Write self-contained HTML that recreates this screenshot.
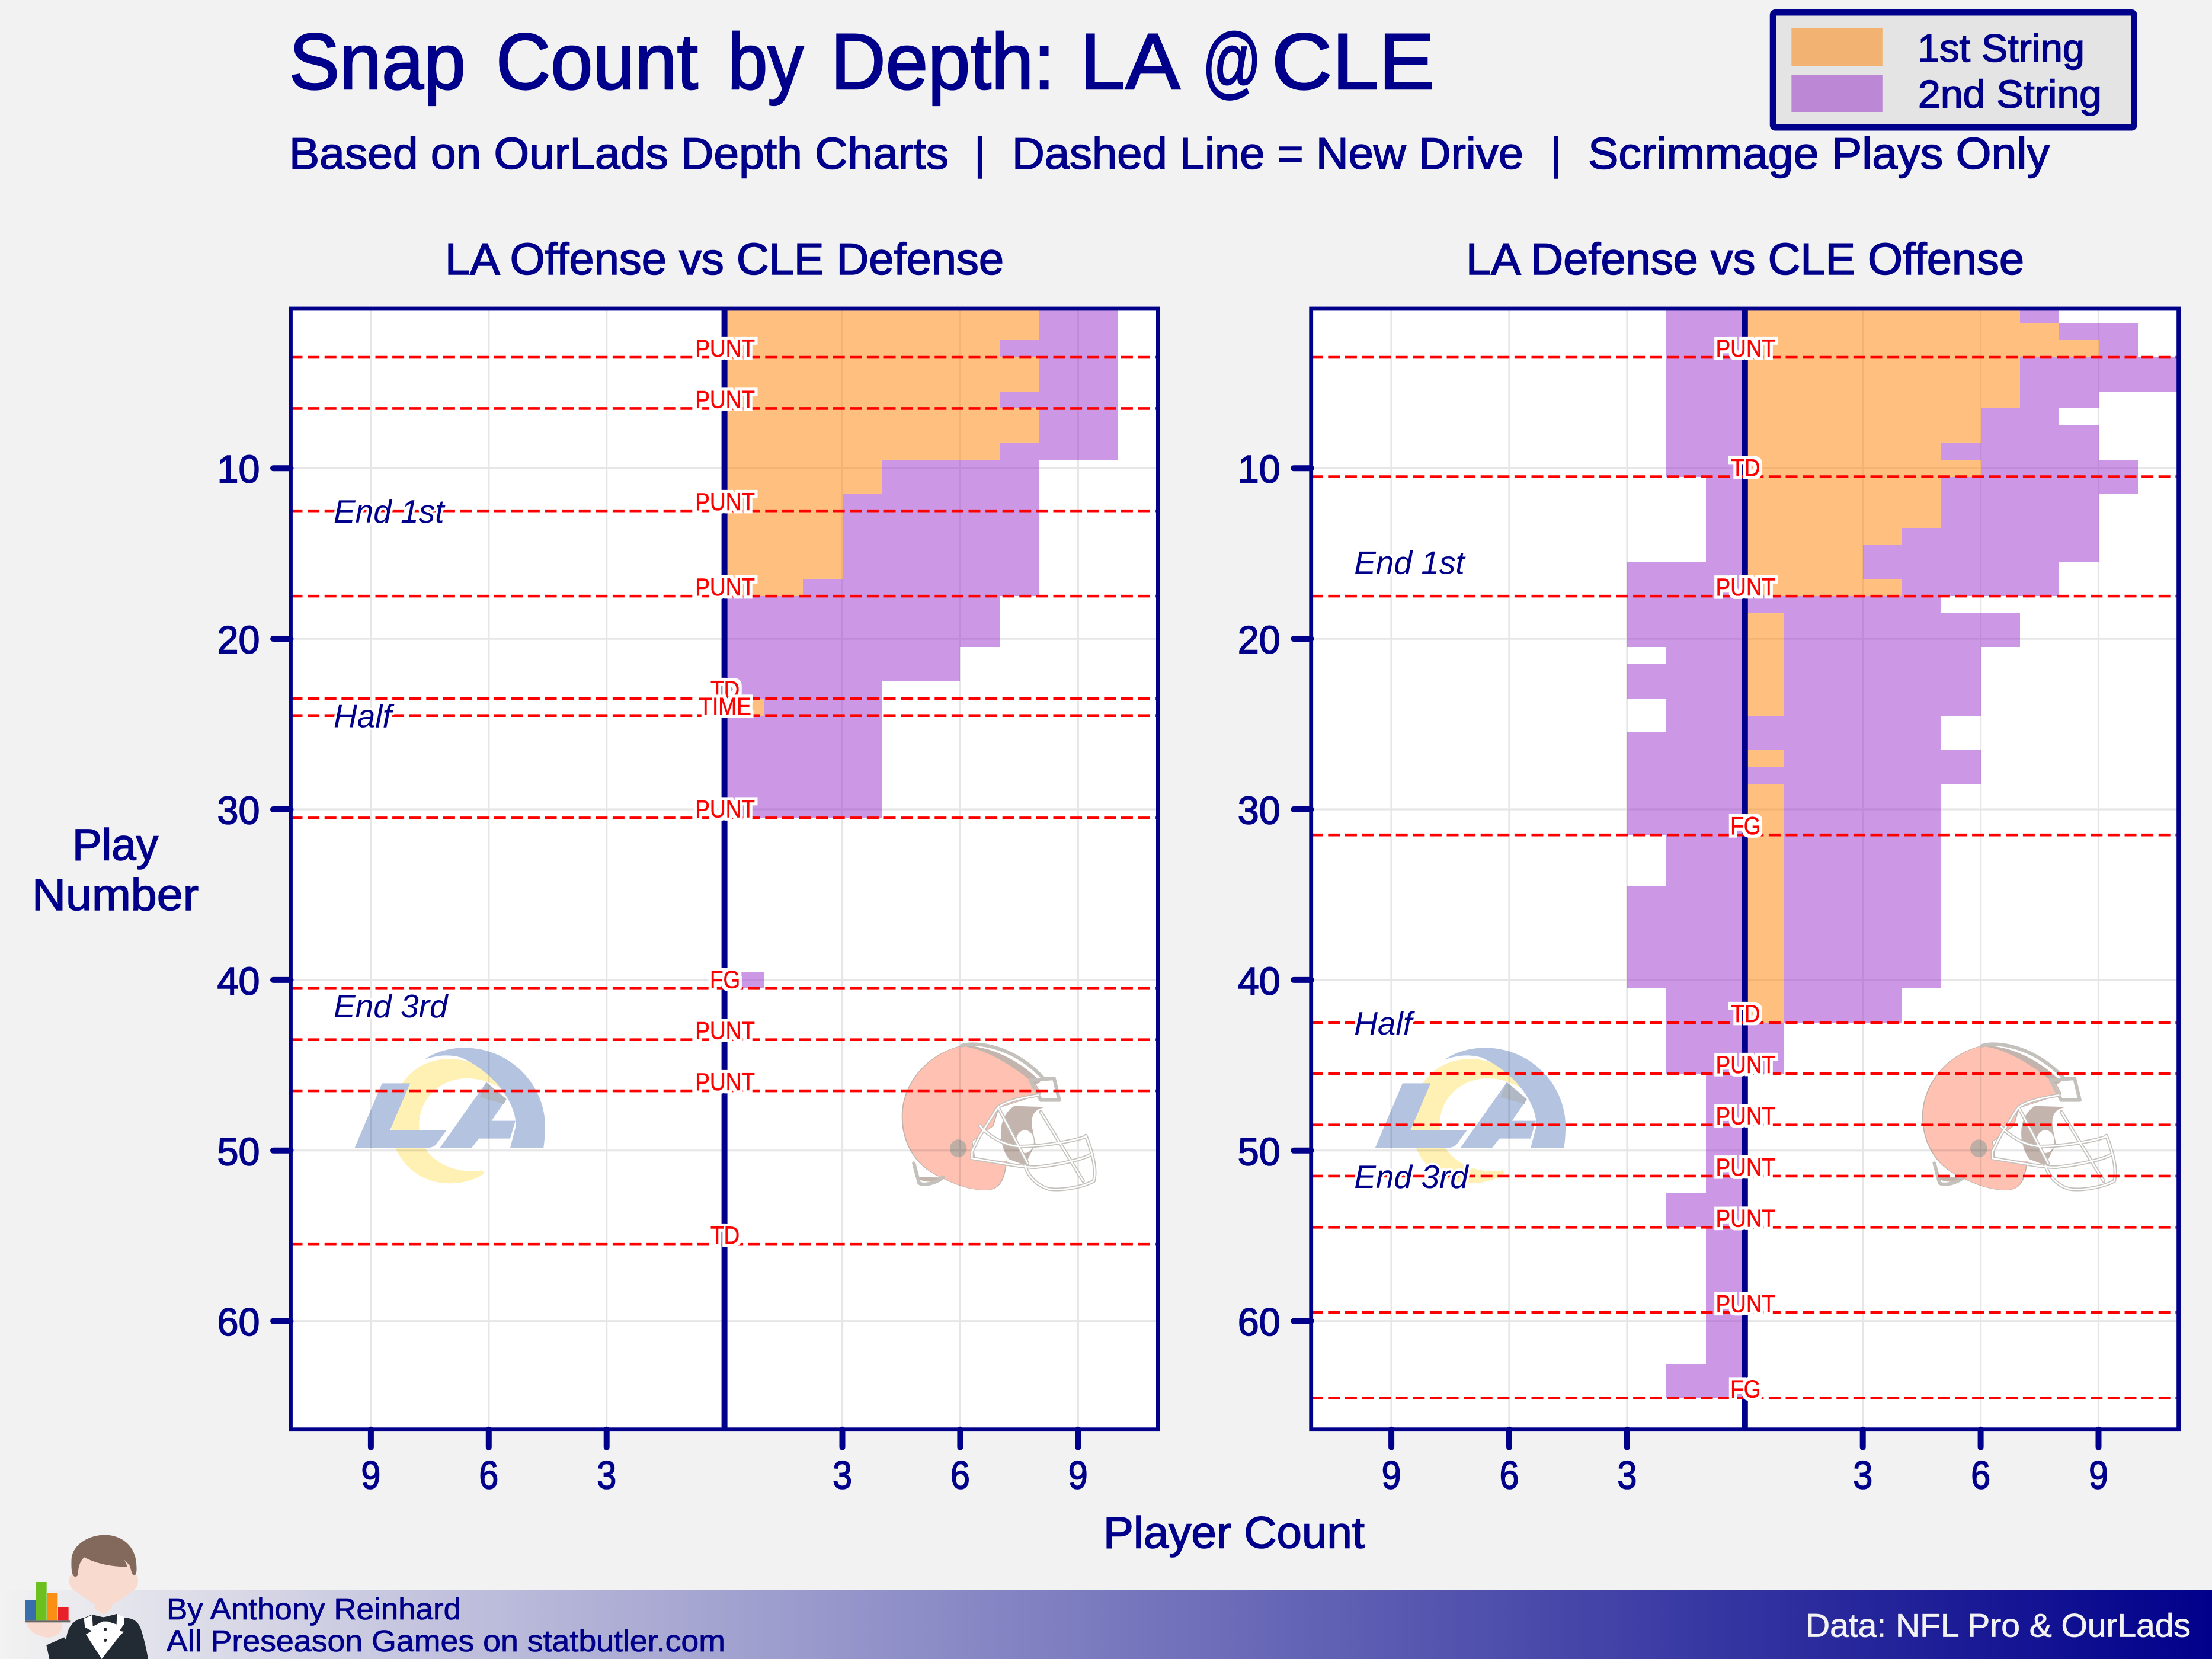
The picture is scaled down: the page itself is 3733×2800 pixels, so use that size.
<!DOCTYPE html>
<html lang="en">
<head>
<meta charset="utf-8">
<title>Snap Count by Depth: LA @ CLE</title>
<style>
html,body{margin:0;padding:0;background:#f2f2f2;}
svg{display:block;}
text{font-family:"Liberation Sans",sans-serif;}
.navy{fill:#00008b;stroke:#00008b;stroke-width:1.6px;}
.title{fill:#00008b;stroke:#00008b;stroke-width:2.6px;}
</style>
</head>
<body>
<svg id="chart" xmlns="http://www.w3.org/2000/svg" width="3733" height="2800" viewBox="0 0 3733 2800">
<defs>
<linearGradient id="footerGrad" x1="0" y1="0" x2="1" y2="0"><stop offset="0" stop-color="#f2f2f2"/><stop offset="1" stop-color="#00008b"/></linearGradient>
<clipPath id="clipOff"><rect x="490.5" y="521" width="1464" height="1891.7"/></clipPath>
<clipPath id="clipDef"><rect x="2212.7" y="521" width="1464" height="1891.7"/></clipPath>
<filter id="halo" x="-30%" y="-50%" width="160%" height="200%">
<feMorphology in="SourceAlpha" operator="dilate" radius="5" result="d"/>
<feFlood flood-color="#ffffff"/>
<feComposite in2="d" operator="in"/>
<feMerge><feMergeNode/><feMergeNode in="SourceGraphic"/></feMerge>
</filter>
<g id="ramsLogoShape">
<path fill="#fff0b3" d="M222,262 C150,262 110,420 112,600 C112,760 160,892 222,892 C255,892 280,860 288,840 L284,825 C250,850 165,800 165,600 C165,450 210,360 255,360 C285,360 310,390 330,430 C315,340 275,262 222,262 Z"/>
<path fill="#b3c3e0" d="M175,265 C195,225 225,205 250,205 C340,205 403,400 403,600 C403,640 402,680 400,713 L337,713 L348,600 C348,470 300,320 245,255 C220,235 195,245 175,265 Z"/>
<path fill="#b3c3e0" d="M95,385 L148,385 L110,622 L217,622 L197,695 C193,708 185,713 175,713 L43,713 Z"/>
<path fill="#b3c3e0" d="M292,380 L330,465 L302,575 L347,575 L337,665 L278,665 L264,713 L204,713 Z"/>
<path fill="#b0b8c4" d="M292,380 L330,465 L325,490 L280,455 Z"/>
</g>
<g id="helmetShell">
<path fill="#fec1b2" stroke="#bdb3ab" stroke-width="2" d="M1190,195 C1120,240 1078,400 1078,550 C1078,680 1100,800 1150,860 C1180,900 1210,930 1240,925 C1265,920 1272,860 1275,780 L1215,770 L1210,680 L1250,600 L1260,510 L1340,440 L1330,390 C1290,300 1240,210 1190,195 Z"/>
<path fill="#c3b5ad" d="M1190,195 C1250,190 1310,290 1340,380 L1330,390 C1290,300 1240,210 1190,195 Z"/>
<path fill="#c3b5ad" d="M1290,500 L1350,505 C1310,520 1325,620 1330,690 L1310,800 L1280,770 C1260,700 1255,560 1290,500 Z"/>
<ellipse cx="1184" cy="715" rx="16" ry="45" fill="#bfaea6"/>
<path fill="#c3b5ad" d="M1105,860 C1120,900 1145,880 1150,862 Z"/>
</g>
<g id="helmetMask" fill="none" stroke-linejoin="round" stroke-linecap="round">
<ellipse cx="1310" cy="680" rx="17" ry="58" fill="#ffffff"/>
<g stroke="#c4c0bc" stroke-width="6">
<path vector-effect="non-scaling-stroke" d="M1190,195 C1220,170 1290,200 1345,360"/>
<path vector-effect="non-scaling-stroke" d="M1335,445 C1300,460 1270,480 1258,510 L1225,650 L1210,730 L1210,765"/>
<path vector-effect="non-scaling-stroke" d="M1225,600 C1240,650 1270,700 1300,705 C1340,705 1400,680 1425,655"/>
<path vector-effect="non-scaling-stroke" d="M1210,765 C1260,785 1300,810 1330,810 C1370,800 1420,770 1435,745"/>
<path vector-effect="non-scaling-stroke" d="M1425,650 C1440,750 1445,830 1440,880 C1420,910 1380,930 1355,920 C1330,900 1315,850 1310,800"/>
<path vector-effect="non-scaling-stroke" d="M1260,510 L1315,790"/>
<path vector-effect="non-scaling-stroke" d="M1340,530 L1420,880"/>
<path vector-effect="non-scaling-stroke" d="M1100,790 L1110,890 C1120,910 1150,880 1155,860"/>
<path vector-effect="non-scaling-stroke" d="M1320,370 L1365,360 L1375,470 L1340,470 Z"/>
</g>
<g stroke="#ffffff" stroke-width="2.5">
<path vector-effect="non-scaling-stroke" d="M1335,445 C1300,460 1270,480 1258,510 L1225,650 L1210,730 L1210,765"/>
<path vector-effect="non-scaling-stroke" d="M1225,600 C1240,650 1270,700 1300,705 C1340,705 1400,680 1425,655"/>
<path vector-effect="non-scaling-stroke" d="M1210,765 C1260,785 1300,810 1330,810 C1370,800 1420,770 1435,745"/>
<path vector-effect="non-scaling-stroke" d="M1425,650 C1440,750 1445,830 1440,880 C1420,910 1380,930 1355,920 C1330,900 1315,850 1310,800"/>
<path vector-effect="non-scaling-stroke" d="M1260,510 L1315,790"/>
<path vector-effect="non-scaling-stroke" d="M1340,530 L1420,880"/>
</g>
</g>
</defs>

<rect x="0" y="0" width="3733" height="2800" fill="#f2f2f2"/>

<text class="title" y="150" font-size="134"><tspan x="488" textLength="298" lengthAdjust="spacingAndGlyphs">Snap</tspan> <tspan x="837" textLength="341" lengthAdjust="spacingAndGlyphs">Count</tspan> <tspan x="1228" textLength="128" lengthAdjust="spacingAndGlyphs">by</tspan> <tspan x="1402" textLength="378" lengthAdjust="spacingAndGlyphs">Depth:</tspan> <tspan x="1822" textLength="162" lengthAdjust="spacingAndGlyphs">LA</tspan> <tspan x="2029" textLength="100" lengthAdjust="spacingAndGlyphs">@</tspan> <tspan x="2146" textLength="275" lengthAdjust="spacingAndGlyphs">CLE</tspan></text>
<text class="navy" x="488" y="285" font-size="75" textLength="1113" lengthAdjust="spacingAndGlyphs">Based on OurLads Depth Charts</text>
<text class="navy" x="1653.7" y="285" font-size="75" text-anchor="middle">|</text>
<text class="navy" x="1708" y="285" font-size="75" textLength="863" lengthAdjust="spacingAndGlyphs">Dashed Line = New Drive</text>
<text class="navy" x="2626" y="285" font-size="75" text-anchor="middle">|</text>
<text class="navy" x="2680" y="285" font-size="75" textLength="779" lengthAdjust="spacingAndGlyphs">Scrimmage Plays Only</text>

<g>
<rect x="2992" y="21.3" width="609.4" height="194" rx="4" fill="#e4e4e4" stroke="#00008b" stroke-width="10.5"/>
<rect x="3023.3" y="48" width="153.5" height="64" fill="#f2b272"/>
<text class="navy" x="3236" y="104" font-size="66" textLength="282" lengthAdjust="spacingAndGlyphs">1st String</text>
<rect x="3023.3" y="126" width="153.5" height="63" fill="#bc88d6"/>
<text class="navy" x="3237" y="181.7" font-size="66" textLength="310" lengthAdjust="spacingAndGlyphs">2nd String</text>
</g>

<text class="navy" x="751" y="463" font-size="75" textLength="943" lengthAdjust="spacingAndGlyphs">LA Offense vs CLE Defense</text>
<text class="navy" x="2474" y="463" font-size="75" textLength="942" lengthAdjust="spacingAndGlyphs">LA Defense vs CLE Offense</text>

<text class="navy" x="122" y="1451.7" font-size="75" textLength="145" lengthAdjust="spacingAndGlyphs">Play</text>
<text class="navy" x="54" y="1536" font-size="75" textLength="281" lengthAdjust="spacingAndGlyphs">Number</text>
<text class="navy" x="1862" y="2612.7" font-size="75" textLength="441" lengthAdjust="spacingAndGlyphs">Player Count</text>

<g id="panels"></g>

<g>
<rect x="0" y="2684" width="3733" height="116" fill="url(#footerGrad)"/>
<text class="navy" style="stroke-width:.8px" x="281" y="2733" font-size="51" textLength="497" lengthAdjust="spacingAndGlyphs">By Anthony Reinhard</text>
<text class="navy" style="stroke-width:.8px" x="281" y="2787" font-size="51" textLength="943" lengthAdjust="spacingAndGlyphs">All Preseason Games on statbutler.com</text>
<text x="3047" y="2762.7" font-size="56" fill="#f2f2f2" stroke="#f2f2f2" stroke-width=".8" textLength="650" lengthAdjust="spacingAndGlyphs">Data: NFL Pro &amp; OurLads</text>
</g>

<g transform="translate(0,2570) scale(0.3333)">
<path fill="#222a33" d="M235,620 L325,580 L335,595 C340,530 370,490 425,482 L465,465 L530,480 L590,462 L630,480 C680,485 705,500 720,560 C735,610 745,660 750,690 L250,690 Z"/>
<path fill="#f8dacf" d="M362,265 C345,270 345,315 365,335 L480,415 L478,435 L525,465 L565,435 L565,420 L680,340 C705,315 705,275 685,262 L630,130 L420,130 Z"/>
<path fill="#82695c" d="M380,273 C362,270 360,230 362,180 C370,110 450,62 530,62 C610,62 680,110 690,200 C692,230 695,262 680,267 C665,265 665,235 655,215 L630,188 L645,222 C570,225 480,205 428,175 C405,190 395,230 395,260 C393,270 388,273 380,273 Z"/>
<path fill="#ffffff" d="M425,485 L465,468 L470,500 L590,500 L592,462 L630,478 L630,510 L605,548 L628,552 L608,570 L515,690 L435,565 L465,548 L430,530 Z"/>
<path fill="#222a33" d="M467,472 L525,478 L592,462 L590,515 L530,495 L470,525 Z"/>
<circle cx="533" cy="540" r="8" fill="#222a33"/>
<circle cx="533" cy="595" r="8" fill="#222a33"/>
<path fill="#f8dacf" d="M132,500 L315,505 C320,560 280,580 240,582 C190,575 140,550 132,500 Z"/>
<rect x="128" y="390" width="52" height="106" fill="#3a6eaa"/>
<rect x="182" y="300" width="54" height="196" fill="#6bbf1f"/>
<rect x="238" y="356" width="54" height="140" fill="#fb8f14"/>
<rect x="294" y="426" width="53" height="70" fill="#e8202a"/>
<rect x="128" y="496" width="227" height="9" fill="#666666"/>
</g>
</svg>

<script>
var offensePlayFirst = [8,8,7,8,8,7,8,8,7,4,4,3,3,3,3,3,2,0,0,0,0,0,0,1,0,0,0,0,0,0];
var offensePlaySecond = [2,2,3,2,2,3,2,2,3,4,4,5,5,5,5,5,6,7,7,7,6,6,4,3,4,4,4,4,4,4,0,0,0,0,0,0,0,0,0,1];
var offensePlayOpposite = [];
var offenseDriveEnds = [3,6,12,17,23,24,30,40,43,46,55];
var offenseDriveLabels = ['PUNT','PUNT','PUNT','PUNT','TD','TIME','PUNT','FG','PUNT','PUNT','TD'];
var offenseNotes = ['End 1st','Half','End 3rd'];
var offenseNotePlays = [12.5,24.5,41.5];

var defensePlayFirst = [7,8,9,7,7,7,6,6,5,6,5,5,5,4,3,3,4,0,1,1,1,1,1,1,0,0,1,0,1,1,1,1,1,1,1,1,1,1,1,1,1,1];
var defensePlaySecond = [1,2,1,4,4,2,2,3,4,4,5,4,4,5,6,5,4,5,6,6,5,5,5,5,5,5,5,6,4,4,4,4,4,4,4,4,4,4,4,4,3,3,1,1,1];
var defensePlayOpposite = [2,2,2,2,2,2,2,2,2,2,1,1,1,1,1,3,3,3,3,3,2,3,3,2,2,3,3,3,3,3,3,2,2,2,3,3,3,3,3,3,2,2,2,2,2,1,1,1,1,1,1,1,2,2,1,1,1,1,1,1,1,1,2,2];
var defenseDriveEnds = [3,10,17,31,42,45,48,51,54,59,64];
var defenseDriveLabels = ['PUNT','TD','PUNT','FG','TD','PUNT','PUNT','PUNT','PUNT','PUNT','FG'];
var defenseNotes = ['End 1st','Half','End 3rd'];
var defenseNotePlays = [15.5,42.5,51.5];

var yTickValues = [10,20,30,40,50,60];
var xTickValues = [-9,-6,-3,3,6,9];

var SVG_NS = 'http://www.w3.org/2000/svg';
var NAVY = '#00008b';
var PLAYER_PX = 66.3;
var PLAY_PX = 28.79;
var TOP = 521, BOTTOM = 2412.7;

function yPos(play) { return 790.2 + (play - 10) * PLAY_PX; }
function xPos(centre, count) { return centre + count * PLAYER_PX; }
function mk(tag, attrs, parent) {
  var node = document.createElementNS(SVG_NS, tag);
  for (var k in attrs) { node.setAttribute(k, attrs[k]); }
  parent.appendChild(node);
  return node;
}
function barRect(parent, centre, from, to, play, fill) {
  var x1 = Math.round(xPos(centre, Math.min(from, to)));
  var x2 = Math.round(xPos(centre, Math.max(from, to)));
  var y1 = Math.round(yPos(play - 0.5));
  var y2 = Math.round(yPos(play + 0.5));
  return mk('rect', {x: x1, y: y1, width: x2 - x1, height: y2 - y1, fill: fill}, parent);
}

var panelRoot = document.getElementById('panels');

function drawPanel(key, centre, clipId, first, second, opposite, driveEnds, driveLabels, notes, notePlays) {
  var left = centre - 732.1;
  var right = centre + 731.8;
  var g = mk('g', {}, panelRoot);
  
  

  var bg = mk('rect', {x: left, y: TOP, width: right - left, height: BOTTOM - TOP, fill: '#ffffff'}, g);
  
  

  xTickValues.forEach(function (v) {
    var gx = mk('line', {x1: xPos(centre, v), x2: xPos(centre, v), y1: TOP, y2: BOTTOM, stroke: '#e6e6e6', 'stroke-width': 3.2}, g);
    
    
  });
  yTickValues.forEach(function (v) {
    var gy = mk('line', {x1: left, x2: right, y1: yPos(v), y2: yPos(v), stroke: '#e6e6e6', 'stroke-width': 3.2}, g);
    
    
  });

  var marks = mk('g', {'clip-path': 'url(#' + clipId + ')'}, g);
  
  

  var plays = Math.max(first.length, second.length, opposite.length);
  for (var i = 0; i < plays; i++) {
    var play = i + 1;
    var a = first[i] || 0;
    var b = second[i] || 0;
    var c = opposite[i] || 0;
    if (a > 0) {
      var r1 = barRect(marks, centre, 0, a, play, 'rgba(255,127,0,0.5)');
      
      
    }
    if (b > 0) {
      var r2 = barRect(marks, centre, a, a + b, play, 'rgba(153,50,204,0.5)');
      
      
    }
    if (c > 0) {
      var r3 = barRect(marks, centre, -c, 0, play, 'rgba(153,50,204,0.5)');
      
      
    }
  }

  var dx = centre - 1222.6;
  var logoTransform = 'translate(' + (560 + dx) + ',1700) scale(0.8929,0.3333)';
  var rams = mk('use', {href: '#ramsLogoShape', transform: logoTransform, style: 'mix-blend-mode:multiply'}, g);
  
  
  var shell = mk('use', {href: '#helmetShell', transform: logoTransform, style: 'mix-blend-mode:multiply'}, g);
  
  
  var mask = mk('use', {href: '#helmetMask', transform: logoTransform}, g);
  
  

  var centreLine = mk('line', {x1: centre, x2: centre, y1: TOP, y2: BOTTOM, stroke: NAVY, 'stroke-width': 10}, g);
  
  

  driveEnds.forEach(function (p) {
    var dash = mk('line', {x1: left, x2: right, y1: yPos(p + 0.5), y2: yPos(p + 0.5), stroke: '#ff0000', 'stroke-width': 4.6, 'stroke-dasharray': '20 8.6'}, g);
    
    
  });
  driveEnds.forEach(function (p, i) {
    var label = mk('text', {x: centre + 1, y: yPos(p + 0.5) - 1, 'text-anchor': 'middle', 'font-size': 42, fill: '#ff0000', stroke: '#ff0000', 'stroke-width': 0.8, filter: 'url(#halo)'}, g);
    label.textContent = driveLabels[i];
    
    
    var natural = label.getComputedTextLength();
    label.setAttribute('textLength', (natural * 0.88).toFixed(1));
    label.setAttribute('lengthAdjust', 'spacingAndGlyphs');
  });
  notes.forEach(function (n, i) {
    var note = mk('text', {x: left + 72.5, y: yPos(notePlays[i]) + 20, 'font-size': 55, 'font-style': 'italic', fill: NAVY, stroke: '#ffffff', 'stroke-width': 8, 'stroke-linejoin': 'round', 'paint-order': 'stroke'}, g);
    note.textContent = n;
    
    
  });

  var frame = mk('rect', {x: left, y: TOP, width: right - left, height: BOTTOM - TOP, fill: 'none', stroke: NAVY, 'stroke-width': 6.8}, g);
  
  

  yTickValues.forEach(function (v) {
    var tick = mk('line', {x1: left - 29.5, x2: left, y1: yPos(v), y2: yPos(v), stroke: NAVY, 'stroke-width': 10, 'stroke-linecap': 'round'}, g);
    
    
    var lab = mk('text', {x: left - 52, y: yPos(v) + 24.5, 'text-anchor': 'end', 'font-size': 66, fill: NAVY, stroke: NAVY, 'stroke-width': 1.6, textLength: 72, lengthAdjust: 'spacingAndGlyphs'}, g);
    lab.textContent = String(v);
    
    
  });
  xTickValues.forEach(function (v) {
    var tick = mk('line', {x1: xPos(centre, v), x2: xPos(centre, v), y1: BOTTOM, y2: BOTTOM + 30, stroke: NAVY, 'stroke-width': 10, 'stroke-linecap': 'round'}, g);
    
    
    var lab = mk('text', {x: xPos(centre, v), y: 2512.7, 'text-anchor': 'middle', 'font-size': 67, fill: NAVY, stroke: NAVY, 'stroke-width': 1.6, textLength: 33, lengthAdjust: 'spacingAndGlyphs'}, g);
    lab.textContent = String(Math.abs(v));
    
    
  });
}

drawPanel('offense', 1222.6, 'clipOff', offensePlayFirst, offensePlaySecond, offensePlayOpposite, offenseDriveEnds, offenseDriveLabels, offenseNotes, offenseNotePlays);
drawPanel('defense', 2944.8, 'clipDef', defensePlayFirst, defensePlaySecond, defensePlayOpposite, defenseDriveEnds, defenseDriveLabels, defenseNotes, defenseNotePlays);
</script>
</body>
</html>
